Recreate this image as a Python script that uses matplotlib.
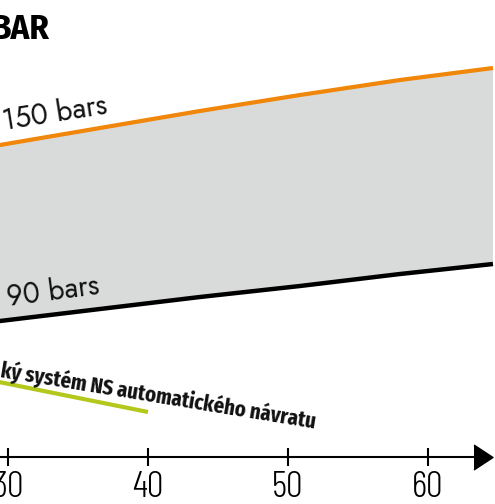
import matplotlib
matplotlib.use("Agg")
import matplotlib.pyplot as plt
from matplotlib import font_manager

# ---- data ----
x_curve = [29.0, 29.43, 36.57, 43.71, 50.86, 58.0, 64.64]
y_150 = [31.1, 31.2, 32.9, 34.6, 36.2, 37.7, 38.9]
y_90 = [13.5, 13.6, 14.8, 16.0, 17.1, 18.3, 19.3]
x_green = [29.0, 40.0]
y_green = [7.6, 4.5]
xticks = [30, 40, 50, 60]
xtick_labels = ["30", "40", "50", "60"]
label_150 = "150 bars"
label_90 = "90 bars"
label_green = "ký systém NS automatického návratu"
title = "BAR"

names = {f.name for f in font_manager.fontManager.ttflist}


def pick(*cands):
    for c in cands:
        if c in names:
            return [c, "DejaVu Sans"]
    return ["DejaVu Sans"]


fam_futura = pick("Jost", "Kumbh Sans", "Liberation Sans")
fam_ticks = pick("Barlow Condensed", "Fira Sans Condensed", "Archivo Narrow")
fam_bold = pick("Fira Sans Extra Condensed", "Fira Sans Condensed",
                "Barlow Condensed", "Liberation Sans")
fam_title = pick("Fira Sans Condensed", "PT Sans Narrow", "Liberation Sans")

ORANGE = "#f0860a"
GREEN = "#b4c81c"
FILL = "#d9dbda"

W, H = 495, 504
fig = plt.figure(figsize=(W / 100, H / 100), dpi=100)
ax = fig.add_axes([0, 0, 1, 1])

# pixel mapping: x px = 8 + (x-30)*14 ; y px = 457 - 10*y
xmin = 30 - 8 / 14
xmax = 30 + (W - 8) / 14
ymin = (457 - H) / 10
ymax = 457 / 10
ax.set_xlim(xmin, xmax)
ax.set_ylim(ymin, ymax)

ax.fill_between(x_curve, y_90, y_150, color=FILL, lw=0, zorder=1)
ax.plot(x_curve, y_150, color=ORANGE, lw=3.0, solid_capstyle="butt", zorder=3)
ax.plot(x_curve, y_90, color="black", lw=3.2, solid_capstyle="butt", zorder=3)
ax.plot(x_green, y_green, color=GREEN, lw=3.0, solid_capstyle="butt", zorder=3)

# axis
for s in ["left", "right", "top"]:
    ax.spines[s].set_visible(False)
ax.spines["bottom"].set_position(("data", 0))
ax.spines["bottom"].set_linewidth(1.5)
ax.spines["bottom"].set_bounds(xmin, 63.4)
ax.yaxis.set_visible(False)
ax.set_xticks(xticks)
ax.set_xticklabels(xtick_labels)
ax.tick_params(axis="x", direction="inout", length=13.5, width=1.5, pad=3,
               labelsize=27)
for t in ax.get_xticklabels():
    t.set_family(fam_ticks)
    t.set_fontweight(300)
ax.plot([63.96], [0], marker=[(-9.5, -12.5), (9.5, 0), (-9.5, 12.5)],
        markersize=18, color="black", clip_on=False, zorder=4)

# texts
ax.text(29.71, 32.75, label_150, family=fam_futura, fontsize=20.5, rotation=9,
        rotation_mode="anchor", ha="left", va="baseline", color="#111111")
ax.text(30.0, 15.1, label_90, family=fam_futura, fontsize=20.5, rotation=7.5,
        rotation_mode="anchor", ha="left", va="baseline", color="#111111")

# green label: size chosen so the text runs ~320 px along its baseline
renderer = fig.canvas.get_renderer()
probe = fig.text(0, 0, label_green, family=fam_bold, fontsize=10,
                 fontweight="bold")
w10 = probe.get_window_extent(renderer).width
probe.remove()
green_size = min(10 * 320 / w10, 16.5)
ax.text(29.4, 7.95, label_green, family=fam_bold, fontsize=green_size,
        fontweight="bold", rotation=-9.3,
        rotation_mode="anchor", ha="left", va="baseline", color="#111111")
ax.text(30 + (49 - 8) / 14, (457 - 39) / 10, title, family=fam_title, fontsize=25,
        fontweight="bold", ha="right", va="baseline", color="black")

fig.savefig("out.png", dpi=100)
